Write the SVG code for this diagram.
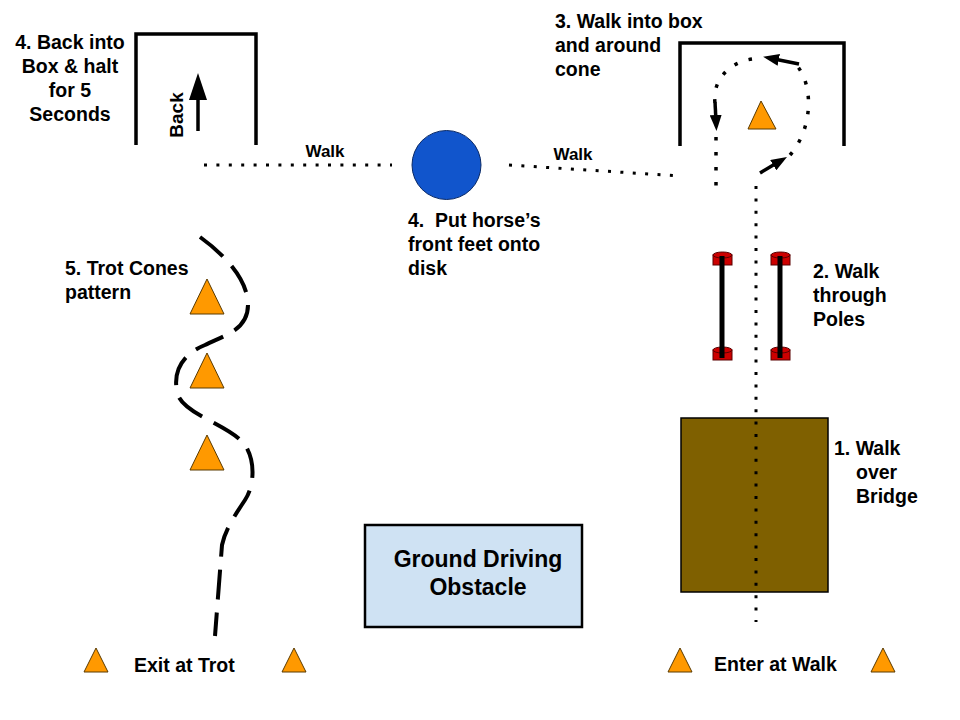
<svg xmlns="http://www.w3.org/2000/svg" width="960" height="720" viewBox="0 0 960 720">
<style>
text{font-family:"Liberation Sans",Arial,sans-serif;font-weight:bold;fill:#000;}
.lbl{font-size:19.5px;}
.walk{font-size:17px;}
.wall{fill:none;stroke:#000;stroke-width:3.5;}
.cone{fill:#ff9900;stroke:#5a3a00;stroke-width:1;}
.dots{fill:none;stroke:#000;stroke-width:3;stroke-dasharray:3 9.4;}
.loopdots{fill:none;stroke:#000;stroke-width:3.5;stroke-dasharray:3.5 11.5;}
.arrow{fill:none;stroke:#000;stroke-width:3.5;marker-end:url(#ah);}
.cap{fill:#cc0000;stroke:#5a0000;stroke-width:1;}
.pole{stroke:#000;stroke-width:5;}
.trot{fill:none;stroke:#000;stroke-width:4;stroke-dasharray:30 13;}
</style>
<defs>
<marker id="ah" viewBox="0 0 16 12" refX="6" refY="6" markerWidth="16" markerHeight="12" markerUnits="userSpaceOnUse" orient="auto">
<path d="M0,0 L16,6 L0,12 z" fill="#000"/>
</marker>
</defs>
<rect width="960" height="720" fill="#fff"/>

<g id="back-box">
<path class="wall" d="M136,145 V34 H256 V145"/>
<line x1="198" y1="131" x2="198" y2="98" stroke="#000" stroke-width="3.5"/>
<polygon points="198,73 189,100 207,100" fill="#000"/>
<text transform="translate(183,115) rotate(-90)" text-anchor="middle" font-size="19">Back</text>
<text class="lbl" text-anchor="middle"><tspan x="70" y="49">4. Back into</tspan><tspan x="70" y="73">Box &amp; halt</tspan><tspan x="70" y="97">for 5</tspan><tspan x="70" y="121">Seconds</tspan></text>
</g>

<g id="walk-labels">
<text class="walk" x="325" y="157" text-anchor="middle">Walk</text>
<text class="walk" x="573" y="160" text-anchor="middle">Walk</text>
</g>

<g id="disk">
<circle cx="446.5" cy="165" r="34.5" fill="#1155cc" stroke="#0b2a66" stroke-width="1"/>
<text class="lbl" xml:space="preserve"><tspan x="408" y="227">4.  Put horse’s</tspan><tspan x="408" y="251">front feet onto</tspan><tspan x="408" y="275">disk</tspan></text>
</g>

<g id="cone-box">
<path class="wall" d="M680,146 V43 H844 V146"/>
<polygon class="cone" points="761,101 748,129 776,129"/>
<text class="lbl"><tspan x="555" y="28">3. Walk into box</tspan><tspan x="555" y="52">and around</tspan><tspan x="555" y="76">cone</tspan></text>
</g>

<g id="poles">
<rect class="cap" x="713" y="255" width="19" height="10"/>
<ellipse class="cap" cx="722.5" cy="255" rx="9.5" ry="3"/>
<rect class="cap" x="713" y="350" width="19" height="10"/>
<ellipse class="cap" cx="722.5" cy="350" rx="9.5" ry="3"/>
<rect class="cap" x="771" y="255" width="19" height="10"/>
<ellipse class="cap" cx="780.5" cy="255" rx="9.5" ry="3"/>
<rect class="cap" x="771" y="350" width="19" height="10"/>
<ellipse class="cap" cx="780.5" cy="350" rx="9.5" ry="3"/>
<line class="pole" x1="722" y1="256" x2="722" y2="358"/>
<line class="pole" x1="780" y1="256" x2="780" y2="358"/>
<text class="lbl"><tspan x="813" y="278">2. Walk</tspan><tspan x="813" y="302">through</tspan><tspan x="813" y="326">Poles</tspan></text>
</g>

<g id="bridge">
<rect x="681" y="418" width="147" height="174" fill="#7f6000" stroke="#000" stroke-width="1.5"/>
<text class="lbl"><tspan x="834" y="455">1. Walk</tspan><tspan x="856" y="479">over</tspan><tspan x="856" y="503">Bridge</tspan></text>
</g>

<g id="trot-cones">
<polygon class="cone" points="207,279 190,314 224,314"/>
<polygon class="cone" points="207,353 190,388 224,388"/>
<polygon class="cone" points="207,435 190,470 224,470"/>
<text class="lbl"><tspan x="65" y="275">5. Trot Cones</tspan><tspan x="65" y="299">pattern</tspan></text>
</g>

<g id="ground-driving">
<rect x="365" y="525" width="217" height="102" fill="#cfe2f3" stroke="#000" stroke-width="2.5"/>
<text font-size="23" text-anchor="middle"><tspan x="478" y="567">Ground Driving</tspan><tspan x="478" y="595">Obstacle</tspan></text>
</g>

<g id="exit">
<polygon class="cone" points="96,648 84,672 108,672"/>
<polygon class="cone" points="294,648 282,672 306,672"/>
<text class="lbl" x="134" y="672">Exit at Trot</text>
</g>

<g id="enter">
<polygon class="cone" points="680,648 668,672 692,672"/>
<polygon class="cone" points="883,648 871,672 895,672"/>
<text class="lbl" x="714" y="671">Enter at Walk</text>
</g>

<g id="connectors">
<line class="dots" x1="204" y1="165" x2="392" y2="165"/>
<line class="dots" x1="509" y1="165" x2="680" y2="176"/>
<line class="dots" x1="756" y1="186" x2="756" y2="622"/>
<line class="arrow" x1="760" y1="173" x2="778.4" y2="162.1"/>
<path class="loopdots" d="M790,155 C812,130 814,88 798,67"/>
<line class="arrow" x1="799" y1="64" x2="772.9" y2="58.7"/>
<path class="loopdots" d="M752,59 C730,62 712,80 715,103"/>
<line class="arrow" x1="715" y1="102" x2="716" y2="121"/>
<line class="loopdots" x1="716" y1="137" x2="716" y2="187"/>
<path class="trot" d="M200,237 C225,255 248,280 248,305 C248,330 225,335 205,345 C180,355 172,375 178,395 C185,415 230,425 245,445 C255,460 255,485 245,500 C235,515 225,530 222,545 L215,636"/>
</g>
</svg>
